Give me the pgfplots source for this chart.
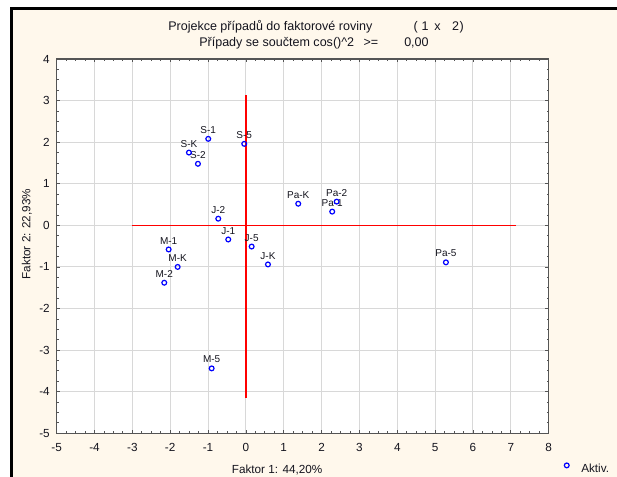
\documentclass[border=0pt]{standalone}
\usepackage{fontspec}
\setmainfont{Liberation Sans}
\usepackage{pgfplots}
\pgfplotsset{compat=1.18}
\usepackage{pgfplotstable}

\definecolor{bgcream}{RGB}{255,248,236}
\definecolor{gridgray}{RGB}{216,216,216}
\definecolor{axgray}{RGB}{85,85,85}
\definecolor{txt}{RGB}{20,20,30}
\definecolor{refred}{RGB}{255,0,0}
\definecolor{markblue}{RGB}{0,0,255}

\pgfplotstableread{
x y label
-0.995 2.08 S-1
-0.044 1.96 S-5
-1.505 1.75 S-K
-1.267 1.48 S-2
-0.730 0.16 J-2
-0.466 -0.34 J-1
0.152 -0.51 J-5
0.583 -0.94 J-K
1.383 0.52 Pa-K
2.398 0.57 Pa-2
2.281 0.33 Pa-1
5.285 -0.89 Pa-5
-2.041 -0.58 M-1
-1.803 -1.00 M-K
-2.157 -1.38 M-2
-0.905 -3.44 M-5
}\pts

\pgfplotstableread{
x y
-3 0
7.13 0
nan nan
0 3.13
0 -4.15
}\reftab

\begin{document}
\begin{tikzpicture}
\fill[white] (0,0) rectangle (462.75pt,357.75pt);
\fill[bgcream] (9.5pt,0) rectangle (462.75pt,350.25pt);
\fill[black] (7.5pt,350.25pt) rectangle (462.75pt,352.3pt);
\fill[black] (7.5pt,0) rectangle (9.5pt,352.3pt);

\tikzset{ttl/.style={anchor=base west, font=\fontsize{9.4}{11}\selectfont, text=txt, inner sep=0pt}}
\node[ttl] at (126pt,334.7pt) {Projekce případů do faktorové roviny};
\node[ttl] at (310pt,334.7pt) {(};
\node[ttl] at (316pt,334.7pt) {1};
\node[ttl] at (325.5pt,334.7pt) {x};
\node[ttl] at (338.8pt,334.7pt) {2};
\node[ttl] at (344.5pt,334.7pt) {)};
\node[ttl] at (149.25pt,322.7pt) {Případy se součtem cos()\textasciicircum 2};
\node[ttl] at (272.5pt,322.7pt) {>=};
\node[ttl] at (303pt,322.7pt) {0,00};

\begin{axis}[
  at={(42.5pt,32.8pt)}, anchor=south west, scale only axis,
  width=369pt, height=280.7pt,
  xmin=-5, xmax=8, ymin=-5, ymax=4,
  xtick={-5,-4,-3,-2,-1,0,1,2,3,4,5,6,7,8},
  xticklabels={-5,-4,-3,-2,-1,0,1,2,3,4,5,6,7,8},
  ytick={-5,-4,-3,-2,-1,0,1,2,3,4},
  yticklabels={-5,-4,-3,-2,-1,0,1,2,3,4},
  minor x tick num=3, minor y tick num=3,
  tick align=inside,
  major tick length=2.5pt, minor tick length=1.5pt,
  grid=major, major grid style={gridgray, line width=0.75pt},
  axis line style={axgray, line width=1.1pt},
  tick style={axgray, line width=0.6pt},
  axis background/.style={fill=white},
  tick label style={font=\fontsize{8.8}{10}\selectfont, text=txt},
  xticklabel style={inner sep=0pt, yshift=-7.5pt},
  yticklabel style={inner sep=0pt, xshift=-5pt},
  xlabel={Faktor 1: 44,20\%},
  ylabel={Faktor 2: 22,93\%},
  label style={font=\fontsize{8.8}{10}\selectfont, text=txt},
  x label style={at={(axis description cs:0.448,-0.098)}, anchor=center},
  y label style={at={(axis description cs:-0.0604,0.532)}, anchor=center},
  clip=false,
  unbounded coords=jump,
  legend style={at={(axis description cs:1.0297,-0.0954)}, anchor=west,
    draw=none, fill=none, inner sep=0pt, outer sep=0pt,
    nodes={inner sep=0pt, font=\fontsize{8.8}{10}\selectfont, text=txt}},
  legend image code/.code={\path (-2.4pt,0pt) (10.7pt,0pt);
    \draw[mark options={draw=markblue, line width=0.9pt}] plot[mark=o, mark size=1.8pt] coordinates {(0pt,3.2pt)};},
]
\addplot[color=refred, line width=1pt, forget plot] table[x=x, y=y] {\reftab};
\addplot[draw=none, mark=none, forget plot, nodes near coords, point meta=explicit symbolic,
  nodes near coords style={font=\fontsize{7.5}{8}\selectfont, text=txt, anchor=south, inner sep=0pt, yshift=3.8pt}]
  table[x=x, y=y, meta=label] {\pts};
\addplot[only marks, mark=o, mark size=1.8pt, mark options={draw=markblue, line width=0.9pt}]
  table[x=x, y=y] {\pts};
\addlegendentry{Aktiv.}
\end{axis}
\pgfresetboundingbox
\useasboundingbox (0,0) rectangle (462.75pt,357.75pt);
\end{tikzpicture}
\end{document}
